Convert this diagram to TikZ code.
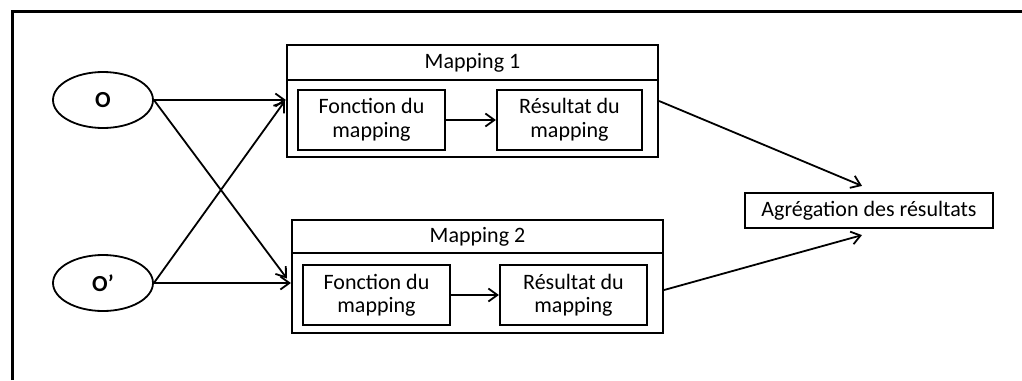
\documentclass[tikz,border=0pt]{standalone}
\usepackage{fontspec}
\setmainfont{Carlito}
\usetikzlibrary{arrows.meta,calc,shapes.geometric}
\begin{document}
\begin{tikzpicture}[x=1pt,y=-1pt,
  txt/.style={font=\fontsize{22}{23.5}\selectfont, align=center, inner sep=0pt},
  obj/.style={draw, line width=1.8pt, ellipse, minimum width=100pt, minimum height=56pt, inner sep=0pt, font=\fontsize{23}{25}\selectfont\bfseries},
  outer/.style={draw, line width=2.2pt, rectangle, inner sep=0pt},
  inbox/.style={draw, line width=2.2pt, rectangle, minimum width=147pt, minimum height=60pt, txt},
  conn/.style={line width=1.8pt, -{Straight Barb[length=9pt,width=13pt,line width=1.8pt]}}
]
\useasboundingbox (0,0) rectangle (1022,380);
% frame
\coordinate (fbl) at (12,380);
\coordinate (ftl) at (12,11);
\coordinate (ftr) at (1022,11);
\draw[line width=3pt, line cap=butt] (fbl) -- (ftl) -- (ftr);

% objects
\node[obj] (o) at (103,100) {O};
\node[obj] (op) at (103,283) {O’};

% mapping 1
\node[outer, minimum width=371pt, minimum height=112pt] (m1) at (472.5,101) {};
\node[outer, minimum width=371pt, minimum height=35pt, txt] (m1t) at (472.5,62.5) {Mapping 1};
\node[inbox] (f1) at (371.5,120) {Fonction du\\mapping};
\node[inbox, minimum width=145pt] (r1) at (569.5,120) {Résultat du\\mapping};

% mapping 2
\node[outer, minimum width=371pt, minimum height=113pt] (m2) at (477.5,276.5) {};
\node[outer, minimum width=371pt, minimum height=33pt, txt] (m2t) at (477.5,236.5) {Mapping 2};
\node[inbox] (f2) at (376.5,295) {Fonction du\\mapping};
\node[inbox] (r2) at (573.5,295) {Résultat du\\mapping};

% aggregation
\node[draw, line width=2.2pt, minimum width=248pt, minimum height=35pt, txt] (agg) at (869,210.5) {Agrégation des résultats};

% connectors
\draw[conn] (f1) -- (r1);
\draw[conn] (f2) -- (r2);
\draw[conn] (o.east) -- (o.east -| m1.west);
\draw[conn] (o.east) -- ($(m2.west)+(-4,2)$);
\draw[conn] (op.east) -- (op.east -| m2.west);
\draw[conn] (op.east) -- ($(m1.west)+(-1,0)$);
\draw[conn] (m1.east) -- ($(agg.north)+(-7,-6)$);
\draw[conn] ($(m2.east)+(0,13.5)$) -- ($(agg.south)+(-7,6)$);
\end{tikzpicture}
\end{document}
